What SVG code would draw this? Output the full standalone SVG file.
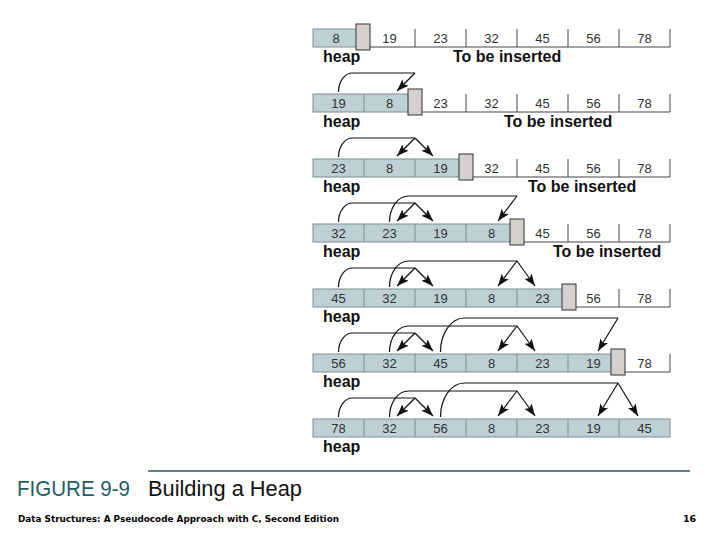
<svg xmlns="http://www.w3.org/2000/svg" width="720" height="540" viewBox="0 0 720 540">
<style>
.heapfill{fill:#bdd0d5;stroke:#7f8d91;stroke-width:1}
.sep{stroke:#7f8d91;stroke-width:1}
.wsep{stroke:#444;stroke-width:1}
.gbox{fill:#d4d0cc;stroke:#333;stroke-width:1}
.num{font-family:"Liberation Sans",Arial,sans-serif;font-size:13px;fill:#333;text-anchor:middle}
.lbl{font-family:"Liberation Sans",Arial,sans-serif;font-size:16px;font-weight:bold;fill:#111}
.con{fill:none;stroke:#111;stroke-width:1.2}
.arr{fill:none;stroke:#111;stroke-width:1.2;marker-end:url(#ah)}
</style>
<defs>
<marker id="ah" viewBox="0 0 12 9" refX="12" refY="4.5" markerWidth="12" markerHeight="9" markerUnits="userSpaceOnUse" orient="auto">
<path d="M0,0 L12,4.5 L0,9 L2.5,4.5 z" fill="#111"/>
</marker>
</defs>
<rect width="720" height="540" fill="#fff"/>

<!-- Row 0 -->
<g id="row0">
<rect class="heapfill" x="313" y="29" width="44" height="18"/>
<line class="wsep" x1="357" y1="47" x2="670" y2="47"/>
<line class="wsep" x1="415" y1="29" x2="415" y2="47"/><line class="wsep" x1="466" y1="29" x2="466" y2="47"/><line class="wsep" x1="517" y1="29" x2="517" y2="47"/><line class="wsep" x1="568" y1="29" x2="568" y2="47"/><line class="wsep" x1="619" y1="29" x2="619" y2="47"/><line class="wsep" x1="670" y1="29" x2="670" y2="47"/>
<rect class="gbox" x="356" y="24" width="14" height="26"/>
<text class="num" x="336" y="42.5">8</text><text class="num" x="389.5" y="42.5">19</text><text class="num" x="440.5" y="42.5">23</text><text class="num" x="491.5" y="42.5">32</text><text class="num" x="542.5" y="42.5">45</text><text class="num" x="593.5" y="42.5">56</text><text class="num" x="644.5" y="42.5">78</text>
<text class="lbl" x="323" y="62">heap</text>
<text class="lbl" x="453" y="62">To be inserted</text>
</g>

<!-- Row 1 -->
<g id="row1">
<rect class="heapfill" x="313" y="94" width="102" height="18"/>
<line class="sep" x1="364" y1="94" x2="364" y2="112"/>
<line class="wsep" x1="415" y1="112" x2="670" y2="112"/>
<line class="wsep" x1="466" y1="94" x2="466" y2="112"/><line class="wsep" x1="517" y1="94" x2="517" y2="112"/><line class="wsep" x1="568" y1="94" x2="568" y2="112"/><line class="wsep" x1="619" y1="94" x2="619" y2="112"/><line class="wsep" x1="670" y1="94" x2="670" y2="112"/>
<rect class="gbox" x="408" y="89" width="14" height="26"/>
<text class="num" x="338.5" y="107.5">19</text><text class="num" x="389.5" y="107.5">8</text><text class="num" x="440.5" y="107.5">23</text><text class="num" x="491.5" y="107.5">32</text><text class="num" x="542.5" y="107.5">45</text><text class="num" x="593.5" y="107.5">56</text><text class="num" x="644.5" y="107.5">78</text>
<text class="lbl" x="323" y="127">heap</text>
<text class="lbl" x="504" y="127">To be inserted</text>
</g>

<!-- Row 2 -->
<g id="row2">
<rect class="heapfill" x="313" y="159" width="153" height="18"/>
<line class="sep" x1="364" y1="159" x2="364" y2="177"/><line class="sep" x1="415" y1="159" x2="415" y2="177"/>
<line class="wsep" x1="466" y1="177" x2="670" y2="177"/>
<line class="wsep" x1="517" y1="159" x2="517" y2="177"/><line class="wsep" x1="568" y1="159" x2="568" y2="177"/><line class="wsep" x1="619" y1="159" x2="619" y2="177"/><line class="wsep" x1="670" y1="159" x2="670" y2="177"/>
<rect class="gbox" x="459" y="154" width="14" height="26"/>
<text class="num" x="338.5" y="172.5">23</text><text class="num" x="389.5" y="172.5">8</text><text class="num" x="440.5" y="172.5">19</text><text class="num" x="491.5" y="172.5">32</text><text class="num" x="542.5" y="172.5">45</text><text class="num" x="593.5" y="172.5">56</text><text class="num" x="644.5" y="172.5">78</text>
<text class="lbl" x="323" y="192">heap</text>
<text class="lbl" x="528" y="192">To be inserted</text>
</g>

<!-- Row 3 -->
<g id="row3">
<rect class="heapfill" x="313" y="224" width="204" height="18"/>
<line class="sep" x1="364" y1="224" x2="364" y2="242"/><line class="sep" x1="415" y1="224" x2="415" y2="242"/><line class="sep" x1="466" y1="224" x2="466" y2="242"/>
<line class="wsep" x1="517" y1="242" x2="670" y2="242"/>
<line class="wsep" x1="568" y1="224" x2="568" y2="242"/><line class="wsep" x1="619" y1="224" x2="619" y2="242"/><line class="wsep" x1="670" y1="224" x2="670" y2="242"/>
<rect class="gbox" x="510" y="219" width="14" height="26"/>
<text class="num" x="338.5" y="237.5">32</text><text class="num" x="389.5" y="237.5">23</text><text class="num" x="440.5" y="237.5">19</text><text class="num" x="491.5" y="237.5">8</text><text class="num" x="542.5" y="237.5">45</text><text class="num" x="593.5" y="237.5">56</text><text class="num" x="644.5" y="237.5">78</text>
<text class="lbl" x="323" y="257">heap</text>
<text class="lbl" x="553" y="257">To be inserted</text>
</g>

<!-- Row 4 -->
<g id="row4">
<rect class="heapfill" x="313" y="289" width="255" height="18"/>
<line class="sep" x1="364" y1="289" x2="364" y2="307"/><line class="sep" x1="415" y1="289" x2="415" y2="307"/><line class="sep" x1="466" y1="289" x2="466" y2="307"/><line class="sep" x1="517" y1="289" x2="517" y2="307"/>
<line class="wsep" x1="568" y1="307" x2="670" y2="307"/>
<line class="wsep" x1="619" y1="289" x2="619" y2="307"/><line class="wsep" x1="670" y1="289" x2="670" y2="307"/>
<rect class="gbox" x="562" y="284" width="14" height="26"/>
<text class="num" x="338.5" y="302.5">45</text><text class="num" x="389.5" y="302.5">32</text><text class="num" x="440.5" y="302.5">19</text><text class="num" x="491.5" y="302.5">8</text><text class="num" x="542.5" y="302.5">23</text><text class="num" x="593.5" y="302.5">56</text><text class="num" x="644.5" y="302.5">78</text>
<text class="lbl" x="323" y="322">heap</text>
</g>

<!-- Row 5 -->
<g id="row5">
<rect class="heapfill" x="313" y="354" width="306" height="18"/>
<line class="sep" x1="364" y1="354" x2="364" y2="372"/><line class="sep" x1="415" y1="354" x2="415" y2="372"/><line class="sep" x1="466" y1="354" x2="466" y2="372"/><line class="sep" x1="517" y1="354" x2="517" y2="372"/><line class="sep" x1="568" y1="354" x2="568" y2="372"/>
<line class="wsep" x1="619" y1="372" x2="670" y2="372"/>
<line class="wsep" x1="670" y1="354" x2="670" y2="372"/>
<rect class="gbox" x="611" y="349" width="14" height="26"/>
<text class="num" x="338.5" y="367.5">56</text><text class="num" x="389.5" y="367.5">32</text><text class="num" x="440.5" y="367.5">45</text><text class="num" x="491.5" y="367.5">8</text><text class="num" x="542.5" y="367.5">23</text><text class="num" x="593.5" y="367.5">19</text><text class="num" x="644.5" y="367.5">78</text>
<text class="lbl" x="323" y="387">heap</text>
</g>

<!-- Row 6 -->
<g id="row6">
<rect class="heapfill" x="313" y="419" width="357" height="18"/>
<line class="sep" x1="364" y1="419" x2="364" y2="437"/><line class="sep" x1="415" y1="419" x2="415" y2="437"/><line class="sep" x1="466" y1="419" x2="466" y2="437"/><line class="sep" x1="517" y1="419" x2="517" y2="437"/><line class="sep" x1="568" y1="419" x2="568" y2="437"/><line class="sep" x1="619" y1="419" x2="619" y2="437"/>
<text class="num" x="338.5" y="432.5">78</text><text class="num" x="389.5" y="432.5">32</text><text class="num" x="440.5" y="432.5">56</text><text class="num" x="491.5" y="432.5">8</text><text class="num" x="542.5" y="432.5">23</text><text class="num" x="593.5" y="432.5">19</text><text class="num" x="644.5" y="432.5">45</text>
<text class="lbl" x="323" y="452">heap</text>
</g>

<g id="connectors">
<!-- row1 -->
<path class="con" d="M338.5,92 A14,19 0 0 1 352.5,73 H415"/>
<path class="arr" d="M415,73 L397,91"/>
<!-- row2 -->
<path class="con" d="M338.5,157 A14,19 0 0 1 352.5,138 H415"/>
<path class="arr" d="M415,138 L397,156"/>
<path class="arr" d="M415,138 L433,156"/>
<!-- row3 -->
<path class="con" d="M338.5,222 A14,19 0 0 1 352.5,203 H415"/>
<path class="arr" d="M415,203 L397,221"/>
<path class="arr" d="M415,203 L433,221"/>
<path class="con" d="M389.5,222 A19,26 0 0 1 408.5,196 H517"/>
<path class="arr" d="M517,196 L498,221"/>
<!-- row4 -->
<path class="con" d="M338.5,287 A14,19 0 0 1 352.5,268 H415"/>
<path class="arr" d="M415,268 L397,286"/>
<path class="arr" d="M415,268 L433,286"/>
<path class="con" d="M389.5,287 A19,26 0 0 1 408.5,261 H517"/>
<path class="arr" d="M517,261 L498,286"/>
<path class="arr" d="M517,261 L535,286"/>
<!-- row5 -->
<path class="con" d="M338.5,352 A14,19 0 0 1 352.5,333 H415"/>
<path class="arr" d="M415,333 L397,351"/>
<path class="arr" d="M415,333 L433,351"/>
<path class="con" d="M389.5,352 A19,26 0 0 1 408.5,326 H517"/>
<path class="arr" d="M517,326 L498,351"/>
<path class="arr" d="M517,326 L535,351"/>
<path class="con" d="M440.5,352 A24,34 0 0 1 464.5,318 H618"/>
<path class="arr" d="M618,318 L598,351"/>
<!-- row6 -->
<path class="con" d="M338.5,417 A14,19 0 0 1 352.5,398 H415"/>
<path class="arr" d="M415,398 L397,416"/>
<path class="arr" d="M415,398 L433,416"/>
<path class="con" d="M389.5,417 A19,26 0 0 1 408.5,391 H517"/>
<path class="arr" d="M517,391 L498,416"/>
<path class="arr" d="M517,391 L535,416"/>
<path class="con" d="M440.5,417 A24,34 0 0 1 464.5,383 H618"/>
<path class="arr" d="M618,383 L598,416"/>
<path class="arr" d="M618,383 L638,416"/>
</g>

<g id="caption">
<line x1="148" y1="471" x2="690" y2="471" stroke="#2a5a5c" stroke-width="1.5"/>
<text x="17" y="496" font-family="'Liberation Sans',Arial,sans-serif" font-size="22" fill="#1f5f66" textLength="113" lengthAdjust="spacingAndGlyphs">FIGURE 9-9</text>
<text x="148" y="496" font-family="'Liberation Sans',Arial,sans-serif" font-size="22" fill="#111" textLength="154" lengthAdjust="spacingAndGlyphs">Building a Heap</text>
</g>
<g id="footer">
<text x="18" y="522" font-family="'DejaVu Sans',Verdana,sans-serif" font-size="9.5" font-weight="bold" fill="#000" textLength="321" lengthAdjust="spacingAndGlyphs">Data Structures: A Pseudocode Approach with C, Second Edition</text>
<text x="683" y="522" font-family="'DejaVu Sans',Verdana,sans-serif" font-size="9.5" font-weight="bold" fill="#000">16</text>
</g>
</svg>
